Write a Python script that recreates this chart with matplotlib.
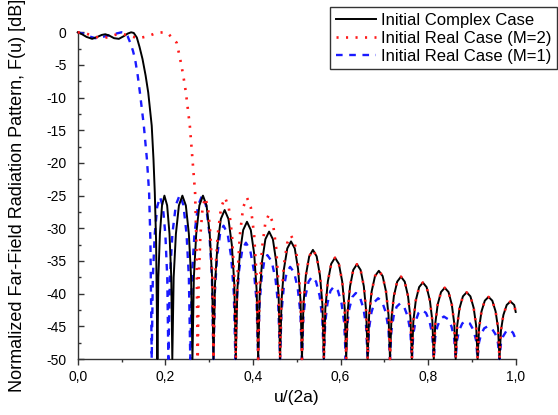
import matplotlib
matplotlib.use("Agg")
import matplotlib.pyplot as plt
from matplotlib.ticker import MultipleLocator, FuncFormatter

plt.rcParams['font.family'] = ['Liberation Sans', 'DejaVu Sans']

# ---- Initial Complex Case (black, solid) ----
complex_u = [
    0.000, 0.010, 0.020, 0.033, 0.045, 0.055, 0.063, 0.072, 0.083, 0.094, 0.105, 0.114, 0.122, 0.128,
    0.135, 0.141, 0.148, 0.155, 0.161, 0.165, 0.169, 0.173, 0.176, 0.179,
    0.182, 0.1841, 0.1877, 0.1925, 0.198, 0.2042, 0.2096, 0.2136,
    0.216, 0.2191, 0.2242, 0.2311, 0.239, 0.2469, 0.2538, 0.2589,
    0.262, 0.2652, 0.2706, 0.2778, 0.286, 0.2942, 0.3014, 0.3068,
    0.310, 0.3134, 0.3191, 0.3268, 0.3355, 0.3442, 0.3519, 0.3576,
    0.361, 0.3644, 0.3701, 0.3778, 0.3865, 0.3952, 0.4029, 0.4086,
    0.412, 0.4154, 0.4209, 0.4285, 0.437, 0.4456, 0.4531, 0.4587,
    0.462, 0.4654, 0.4709, 0.4785, 0.487, 0.4956, 0.5031, 0.5087,
    0.512, 0.5154, 0.5209, 0.5285, 0.537, 0.5456, 0.5531, 0.5587,
    0.562, 0.5654, 0.5711, 0.5788, 0.5875, 0.5962, 0.6039, 0.6096,
    0.613, 0.6163, 0.6218, 0.6291, 0.6375, 0.6459, 0.6533, 0.6587,
    0.662, 0.6654, 0.6711, 0.6788, 0.6875, 0.6962, 0.7039, 0.7096,
    0.713, 0.7164, 0.7219, 0.7295, 0.738, 0.7466, 0.7541, 0.7597,
    0.763, 0.7664, 0.7719, 0.7795, 0.788, 0.7966, 0.8041, 0.8097,
    0.813, 0.8164, 0.8219, 0.8295, 0.838, 0.8466, 0.8541, 0.8597,
    0.863, 0.8664, 0.8719, 0.8795, 0.888, 0.8966, 0.9041, 0.9097,
    0.913, 0.9164, 0.9219, 0.9295, 0.938, 0.9466, 0.9541, 0.9597,
    0.963, 0.9664, 0.9719, 0.9795, 0.988, 0.9966, 1.000,
]
complex_db = [
    0.0, -0.3, -0.7, -1.0, -0.7, -0.4, -0.3, -0.5, -0.9, -1.0, -0.6, -0.2, 0.0, -0.1,
    -0.8, -2.2, -4.1, -6.6, -9.2, -11.8, -14.3, -19.4, -24.5, -32.0,
    -50, -37.5, -30.85, -26.5, -25.0, -26.5, -30.85, -37.5,
    -50, -37.5, -30.85, -26.5, -25.0, -26.5, -30.85, -37.5,
    -50, -37.5, -30.85, -26.5, -25.0, -26.5, -30.85, -37.5,
    -50, -38.6, -32.54, -28.57, -27.2, -28.57, -32.54, -38.6,
    -50, -39.5, -33.91, -30.26, -29.0, -30.26, -33.91, -39.5,
    -50, -40.25, -35.06, -31.67, -30.5, -31.67, -35.06, -40.25,
    -50, -41.0, -36.21, -33.08, -32.0, -33.08, -36.21, -41.0,
    -50, -41.65, -37.21, -34.3, -33.3, -34.3, -37.21, -41.65,
    -50, -42.25, -38.13, -35.43, -34.5, -35.43, -38.13, -42.25,
    -50, -42.75, -38.89, -36.37, -35.5, -36.37, -38.89, -42.75,
    -50, -43.25, -39.66, -37.31, -36.5, -37.31, -39.66, -43.25,
    -50, -43.7, -40.35, -38.16, -37.4, -38.16, -40.35, -43.7,
    -50, -44.15, -41.04, -39.0, -38.3, -39.0, -41.04, -44.15,
    -50, -44.55, -41.65, -39.75, -39.1, -39.75, -41.65, -44.55,
    -50, -44.9, -42.19, -40.41, -39.8, -40.41, -42.19, -44.9,
    -50, -45.25, -42.72, -41.07, -40.5, -41.07, -42.72, -45.25,
    -50, -45.6, -43.26, -41.73, -41.2, -41.73, -42.8,
]

# ---- Initial Real Case (M=2) (red, dotted); beyond u=0.512 it follows the complex case ----
real2_head_u = [
    0.000, 0.020, 0.040, 0.060, 0.075, 0.090, 0.105, 0.120, 0.140, 0.160, 0.180, 0.195, 0.205,
    0.215, 0.226, 0.234, 0.241, 0.247, 0.256, 0.262, 0.268, 0.271,
    0.274, 0.2763, 0.2801, 0.2852, 0.291, 0.2975, 0.3032, 0.3075,
    0.310, 0.3135, 0.3195, 0.3274, 0.3365, 0.3449, 0.3523, 0.3577,
    0.361, 0.3644, 0.3701, 0.3778, 0.3865, 0.3952, 0.4029, 0.4086,
    0.412, 0.4154, 0.4209, 0.4285, 0.437, 0.4456, 0.4531, 0.4587,
    0.462, 0.4654, 0.4709, 0.4785, 0.487, 0.4956, 0.5031, 0.5087,
]
real2_head_db = [
    0.0, -0.2, -0.7, -0.9, -0.6, -0.3, -0.3, -0.6, -0.9, -0.6, -0.1, 0.0, -0.1,
    -0.8, -1.6, -4.1, -6.6, -9.2, -14.3, -19.4, -24.5, -32.0,
    -50, -37.65, -31.08, -26.78, -25.3, -26.78, -31.08, -37.65,
    -50, -37.65, -31.08, -26.78, -25.3, -26.78, -31.08, -37.65,
    -50, -37.65, -31.08, -26.78, -25.3, -26.78, -31.08, -37.65,
    -50, -38.9, -32.99, -29.13, -27.8, -29.13, -32.99, -38.9,
    -50, -40.55, -35.52, -32.23, -31.1, -32.23, -35.52, -40.55,
]
tail_start = complex_u.index(0.512)
real2_u = real2_head_u + complex_u[tail_start:]
real2_db = real2_head_db + complex_db[tail_start:]

# ---- Initial Real Case (M=1) (blue, dashed) ----
real1_u = [
    0.000, 0.012, 0.025, 0.040, 0.052, 0.063, 0.075, 0.088, 0.100, 0.108, 0.114,
    0.120, 0.126, 0.131, 0.137, 0.142, 0.151, 0.158, 0.163, 0.166,
    0.169, 0.1715, 0.1758, 0.1815, 0.188, 0.1945, 0.2002, 0.2045,
    0.207, 0.2105, 0.2163, 0.2241, 0.233, 0.2412, 0.2484, 0.2538,
    0.257, 0.2606, 0.2666, 0.2748, 0.284, 0.2929, 0.3007, 0.3065,
    0.310, 0.3131, 0.3182, 0.3251, 0.333, 0.3422, 0.3504, 0.3564,
    0.360, 0.3632, 0.3686, 0.3758, 0.384, 0.3936, 0.4020, 0.4083,
    0.412, 0.4148, 0.4195, 0.4258, 0.433, 0.4429, 0.4517, 0.4581,
    0.462, 0.4651, 0.4702, 0.4771, 0.485, 0.4942, 0.5024, 0.5084,
    0.512, 0.5151, 0.5202, 0.5271, 0.535, 0.5442, 0.5524, 0.5584,
    0.562, 0.5651, 0.5702, 0.5771, 0.585, 0.5942, 0.6024, 0.6084,
    0.612, 0.6151, 0.6202, 0.6271, 0.635, 0.6442, 0.6524, 0.6584,
    0.662, 0.6652, 0.6706, 0.6778, 0.686, 0.6952, 0.7034, 0.7094,
    0.713, 0.7161, 0.7212, 0.7281, 0.736, 0.7452, 0.7534, 0.7594,
    0.763, 0.7661, 0.7712, 0.7781, 0.786, 0.7952, 0.8034, 0.8094,
    0.813, 0.8161, 0.8212, 0.8281, 0.836, 0.8452, 0.8534, 0.8594,
    0.863, 0.8661, 0.8712, 0.8781, 0.886, 0.8952, 0.9034, 0.9094,
    0.913, 0.9161, 0.9212, 0.9281, 0.936, 0.9452, 0.9534, 0.9594,
    0.963, 0.9661, 0.9712, 0.9781, 0.986, 0.994, 1.000,
]
real1_db = [
    0.0, -0.2, -0.6, -0.9, -0.8, -0.6, -0.4, -0.2, 0.0, -0.1, -0.6,
    -1.6, -2.8, -4.1, -6.6, -9.2, -14.3, -19.4, -24.5, -32.0,
    -50, -37.6, -31.0, -26.69, -25.2, -26.69, -31.0, -37.6,
    -50, -37.45, -30.77, -26.41, -24.9, -26.41, -30.77, -37.45,
    -50, -37.5, -30.85, -26.5, -25.0, -26.5, -30.85, -37.5,
    -50, -39.8, -34.37, -30.82, -29.6, -30.82, -34.37, -39.8,
    -50, -41.1, -36.37, -33.27, -32.2, -33.27, -36.37, -41.1,
    -50, -42.05, -37.82, -35.05, -34.1, -35.05, -37.82, -42.05,
    -50, -42.95, -39.2, -36.75, -35.9, -36.75, -39.2, -42.95,
    -50, -43.7, -40.35, -38.16, -37.4, -38.16, -40.35, -43.7,
    -50, -44.45, -41.5, -39.57, -38.9, -39.57, -41.5, -44.45,
    -50, -44.95, -42.26, -40.51, -39.9, -40.51, -42.26, -44.95,
    -50, -45.35, -42.88, -41.26, -40.7, -41.26, -42.88, -45.35,
    -50, -45.75, -43.49, -42.01, -41.5, -42.01, -43.49, -45.75,
    -50, -46.25, -44.26, -42.95, -42.5, -42.95, -44.26, -46.25,
    -50, -46.75, -45.02, -43.89, -43.5, -43.89, -45.02, -46.75,
    -50, -47.1, -45.56, -44.55, -44.2, -44.55, -45.56, -47.1,
    -50, -47.5, -46.17, -45.3, -45.0, -45.3, -46.17, -47.5,
    -50, -47.75, -46.55, -45.77, -45.5, -46.0, -47.0,
]

labels = ["Initial Complex Case", "Initial Real Case (M=2)", "Initial Real Case (M=1)"]
x_ticks = [0.0, 0.2, 0.4, 0.6, 0.8, 1.0]
y_ticks = [0, -5, -10, -15, -20, -25, -30, -35, -40, -45, -50]

fig = plt.figure(figsize=(5.58, 4.15), dpi=100)
ax = fig.add_axes([77.7 / 558, 1 - 359 / 415, 438 / 558, (359 - 32.3) / 415])

ax.plot(complex_u, complex_db, color='black', lw=1.4, label=labels[0], clip_on=False, zorder=3)
ax.plot(real2_u, real2_db, color='#ff1a1a', lw=1.9, linestyle=(0, (0.8, 2.8)), label=labels[1],
        clip_on=False, zorder=4)
ax.plot(real1_u, real1_db, color='#1a1aff', lw=1.7, linestyle=(0, (2.8, 2.8)), label=labels[2],
        clip_on=False, zorder=2)

ax.set_xlim(0, 1.0)
ax.set_ylim(-50, 0)
ax.set_xticks(x_ticks)
ax.set_yticks(y_ticks)
ax.xaxis.set_minor_locator(MultipleLocator(0.1))
ax.yaxis.set_minor_locator(MultipleLocator(2.5))
ax.xaxis.set_major_formatter(FuncFormatter(lambda v, p: f"{v:.1f}".replace('.', ',')))
ax.yaxis.set_major_formatter(FuncFormatter(lambda v, p: f"{int(round(v))}"))

for s in ['top', 'right']:
    ax.spines[s].set_visible(False)
for s in ['left', 'bottom']:
    ax.spines[s].set_linewidth(1.0)
    ax.spines[s].set_color('#333333')
    ax.spines[s].set_zorder(1)

ax.tick_params(axis='x', which='major', direction='out', length=4, width=1, labelsize=10, pad=4, colors='#333333', labelcolor='black')
ax.tick_params(axis='x', which='minor', direction='out', length=2.5, width=1, colors='#333333')
ax.tick_params(axis='y', which='major', direction='in', length=4, width=1, labelsize=10, pad=8, colors='#333333', labelcolor='black')
ax.tick_params(axis='y', which='minor', direction='in', length=2.5, width=1, colors='#333333')

ax.set_xlabel("u/(2a)", fontsize=12.5)
ax.set_ylabel("Normalized Far-Field Radiation Pattern, F(u) [dB]", fontsize=13)
ax.xaxis.set_label_coords(0.5, -0.095)
ax.yaxis.set_label_coords(-0.118, 0.5)

leg = ax.legend(loc='upper right', bbox_to_anchor=(557 / 558, 1 - 6.7 / 415), bbox_transform=fig.transFigure,
                fontsize=12, frameon=True, fancybox=False, framealpha=1, edgecolor='#333333',
                handlelength=2.4, handletextpad=0.3, labelspacing=0.18, borderpad=0.35, borderaxespad=0)
leg.get_frame().set_linewidth(1.0)
leg.set_zorder(10)

fig.savefig("out.png", dpi=100)
